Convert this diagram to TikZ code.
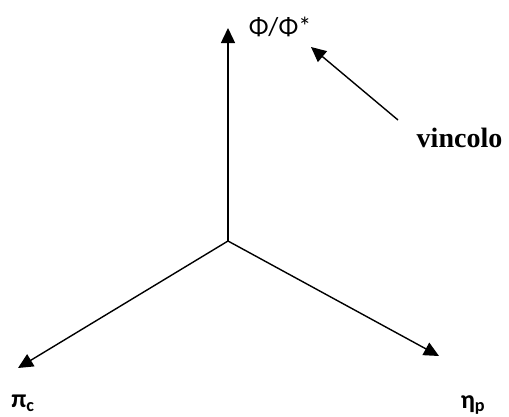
\documentclass[tikz,border=0pt]{standalone}
\usepackage{fontspec}
\usetikzlibrary{arrows.meta}
\setmainfont{Carlito}
\newfontfamily\serifbold{Liberation Serif}
\begin{document}
\begin{tikzpicture}[x=1pt,y=-1pt,
  axis/.style={line width=1.4pt,-{Triangle[length=15pt,width=14pt]}},
  lbl/.style={inner sep=0pt,font=\fontsize{26}{30}\selectfont}]
\useasboundingbox (0,0) rectangle (509,416);
\coordinate (o) at (228,241);
\coordinate (up) at (228,28);
\coordinate (l) at (18,368);
\coordinate (r) at (439,356);
\coordinate (vs) at (398,120);
\coordinate (ve) at (311,47);
\draw[axis] (o) -- (up);
\draw[axis] (o) -- (l);
\draw[axis] (o) -- (r);
\draw[axis] (vs) -- (ve);
\node[lbl] (phi) at (280,27) {Φ/Φ*};
\node[lbl,font=\fontsize{26}{30}\selectfont\bfseries] (pi) at (23,403) {π\textsubscript{c}};
\node[lbl,font=\fontsize{26}{30}\selectfont\bfseries] (eta) at (473,405) {η\textsubscript{p}};
\node[lbl,anchor=base,font=\fontsize{28}{32}\selectfont\serifbold\bfseries] (vinc) at (459.5,147) {vincolo};
\end{tikzpicture}
\end{document}
